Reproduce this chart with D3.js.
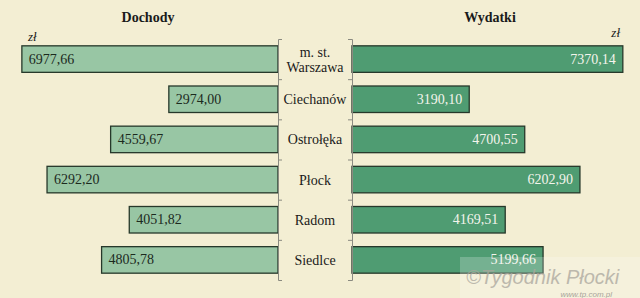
<!DOCTYPE html>
<html>
<head>
<meta charset="utf-8">
<script src="https://cdn.jsdelivr.net/npm/d3@7"></script>
<style>
  body { margin: 0; background: #f3eed3; }
  svg { display: block; }
</style>
</head>
<body>
<script>
let w = 640;
let h = 298;

let cities = ["m. st. Warszawa", "Ciechanów", "Ostrołęka", "Płock", "Radom", "Siedlce"];
let dochody = [6977.66, 2974.00, 4559.67, 6292.20, 4051.82, 4805.78];
let wydatki = [7370.14, 3190.10, 4700.55, 6202.90, 4169.51, 5199.66];
let titles = ["Dochody", "Wydatki"];

let serif = "Liberation Serif";
let fmt = (v) => v.toFixed(2).replace(".", ",");

let leftX = 278;
let rightX = 352;

let yScale = d3.scaleBand()
  .domain(cities)
  .range([39, 280])
  .paddingInner(0.34)
  .paddingOuter(0.17);

let leftScale = d3.scaleLinear().domain([0, 7500]).range([leftX, leftX - 275.3]);
let rightScale = d3.scaleLinear().domain([0, 7500]).range([rightX, rightX + 275.6]);

let svg = d3.select("body")
  .append("svg")
  .attr("width", w)
  .attr("height", h)
  .attr("font-family", serif);

svg.append("rect")
  .attr("width", w)
  .attr("height", h)
  .attr("fill", "#f3eed3");

// titles
svg.append("text")
  .attr("x", 148).attr("y", 22)
  .attr("text-anchor", "middle")
  .attr("font-family", serif)
  .attr("font-weight", "bold")
  .attr("font-size", 14)
  .attr("fill", "#1a1a1a")
  .text(titles[0]);
svg.append("text")
  .attr("x", 490).attr("y", 22)
  .attr("text-anchor", "middle")
  .attr("font-family", serif)
  .attr("font-weight", "bold")
  .attr("font-size", 14)
  .attr("fill", "#1a1a1a")
  .text(titles[1]);

// unit labels
svg.append("text")
  .attr("x", 28).attr("y", 41)
  .attr("font-family", serif)
  .attr("font-style", "italic")
  .attr("font-size", 13)
  .attr("fill", "#1a1a1a")
  .text("zł");
svg.append("text")
  .attr("x", 620).attr("y", 37)
  .attr("text-anchor", "end")
  .attr("font-family", serif)
  .attr("font-style", "italic")
  .attr("font-size", 13)
  .attr("fill", "#1a1a1a")
  .text("zł");

// bars
let data = cities.map((c, i) => ({ city: c, d: dochody[i], w: wydatki[i] }));

svg.append("g")
  .selectAll("rect")
  .data(data)
  .enter()
  .append("rect")
  .attr("x", (d) => leftScale(d.d))
  .attr("y", (d) => yScale(d.city))
  .attr("width", (d) => leftX - leftScale(d.d))
  .attr("height", yScale.bandwidth())
  .attr("fill", "#98c6a4")
  .attr("stroke", "#26382a")
  .attr("stroke-width", 1.3);

svg.append("g")
  .selectAll("rect")
  .data(data)
  .enter()
  .append("rect")
  .attr("x", rightX)
  .attr("y", (d) => yScale(d.city))
  .attr("width", (d) => rightScale(d.w) - rightX)
  .attr("height", yScale.bandwidth())
  .attr("fill", "#4f9c72")
  .attr("stroke", "#26382a")
  .attr("stroke-width", 1.3);

// value labels
svg.append("g")
  .selectAll("text")
  .data(data)
  .enter()
  .append("text")
  .attr("x", (d) => leftScale(d.d) + 7)
  .attr("y", (d) => yScale(d.city) + yScale.bandwidth() / 2 + 4.5)
  .attr("font-family", serif)
  .attr("font-size", 14)
  .attr("fill", "#1c2a1e")
  .text((d) => fmt(d.d));

svg.append("g")
  .selectAll("text")
  .data(data)
  .enter()
  .append("text")
  .attr("x", (d) => rightScale(d.w) - 7)
  .attr("y", (d) => yScale(d.city) + yScale.bandwidth() / 2 + 4.5)
  .attr("text-anchor", "end")
  .attr("font-family", serif)
  .attr("font-size", 14)
  .attr("fill", "#f4f4ec")
  .text((d) => fmt(d.w));

// axes with ticks at band boundaries
let bounds = cities.slice(1).map((c) => yScale(c) - yScale.step() * yScale.paddingInner() / 2);

let leftAxis = d3.axisRight(d3.scaleLinear().domain([39, 280]).range([39, 280]))
  .tickValues(bounds)
  .tickSize(4)
  .tickFormat("");
let rightAxis = d3.axisLeft(d3.scaleLinear().domain([39, 280]).range([39, 280]))
  .tickValues(bounds)
  .tickSize(4)
  .tickFormat("");

let la = svg.append("g")
  .attr("transform", "translate(" + leftX + ",0)")
  .call(leftAxis);
let ra = svg.append("g")
  .attr("transform", "translate(" + rightX + ",0)")
  .call(rightAxis);
[la, ra].forEach((g) => {
  g.select(".domain").attr("stroke", "#8a8a80");
  g.selectAll(".tick line").attr("stroke", "#8a8a80");
});

// category labels
let cat = svg.append("g")
  .selectAll("text")
  .data(cities)
  .enter()
  .append("text")
  .attr("text-anchor", "middle")
  .attr("font-family", serif)
  .attr("font-size", 14)
  .attr("fill", "#1a1a1a");
cat.each(function(c) {
  let t = d3.select(this);
  let cy = yScale(c) + yScale.bandwidth() / 2;
  if (c === "m. st. Warszawa") {
    t.append("tspan").attr("x", 315).attr("y", cy - 2).text("m. st.");
    t.append("tspan").attr("x", 315).attr("y", cy + 13).text("Warszawa");
  } else {
    t.append("tspan").attr("x", 315).attr("y", cy + 5).text(c);
  }
});

// watermark
let wm = svg.append("g");
wm.append("rect")
  .attr("x", 460).attr("y", 257)
  .attr("width", 180).attr("height", 41)
  .attr("fill", "#ffffff")
  .attr("opacity", 0.22);
wm.append("text")
  .attr("x", 466).attr("y", 284)
  .attr("font-family", "Liberation Sans")
  .attr("font-style", "italic")
  .attr("font-size", 20)
  .attr("fill", "#aaa69c")
  .attr("opacity", 0.75)
  .text("©Tygodnik Płocki");
wm.append("text")
  .attr("x", 612).attr("y", 297)
  .attr("text-anchor", "end")
  .attr("font-family", "Liberation Sans")
  .attr("font-style", "italic")
  .attr("font-size", 8)
  .attr("fill", "#a8a49a")
  .text("www.tp.com.pl");
</script>
</body>
</html>
